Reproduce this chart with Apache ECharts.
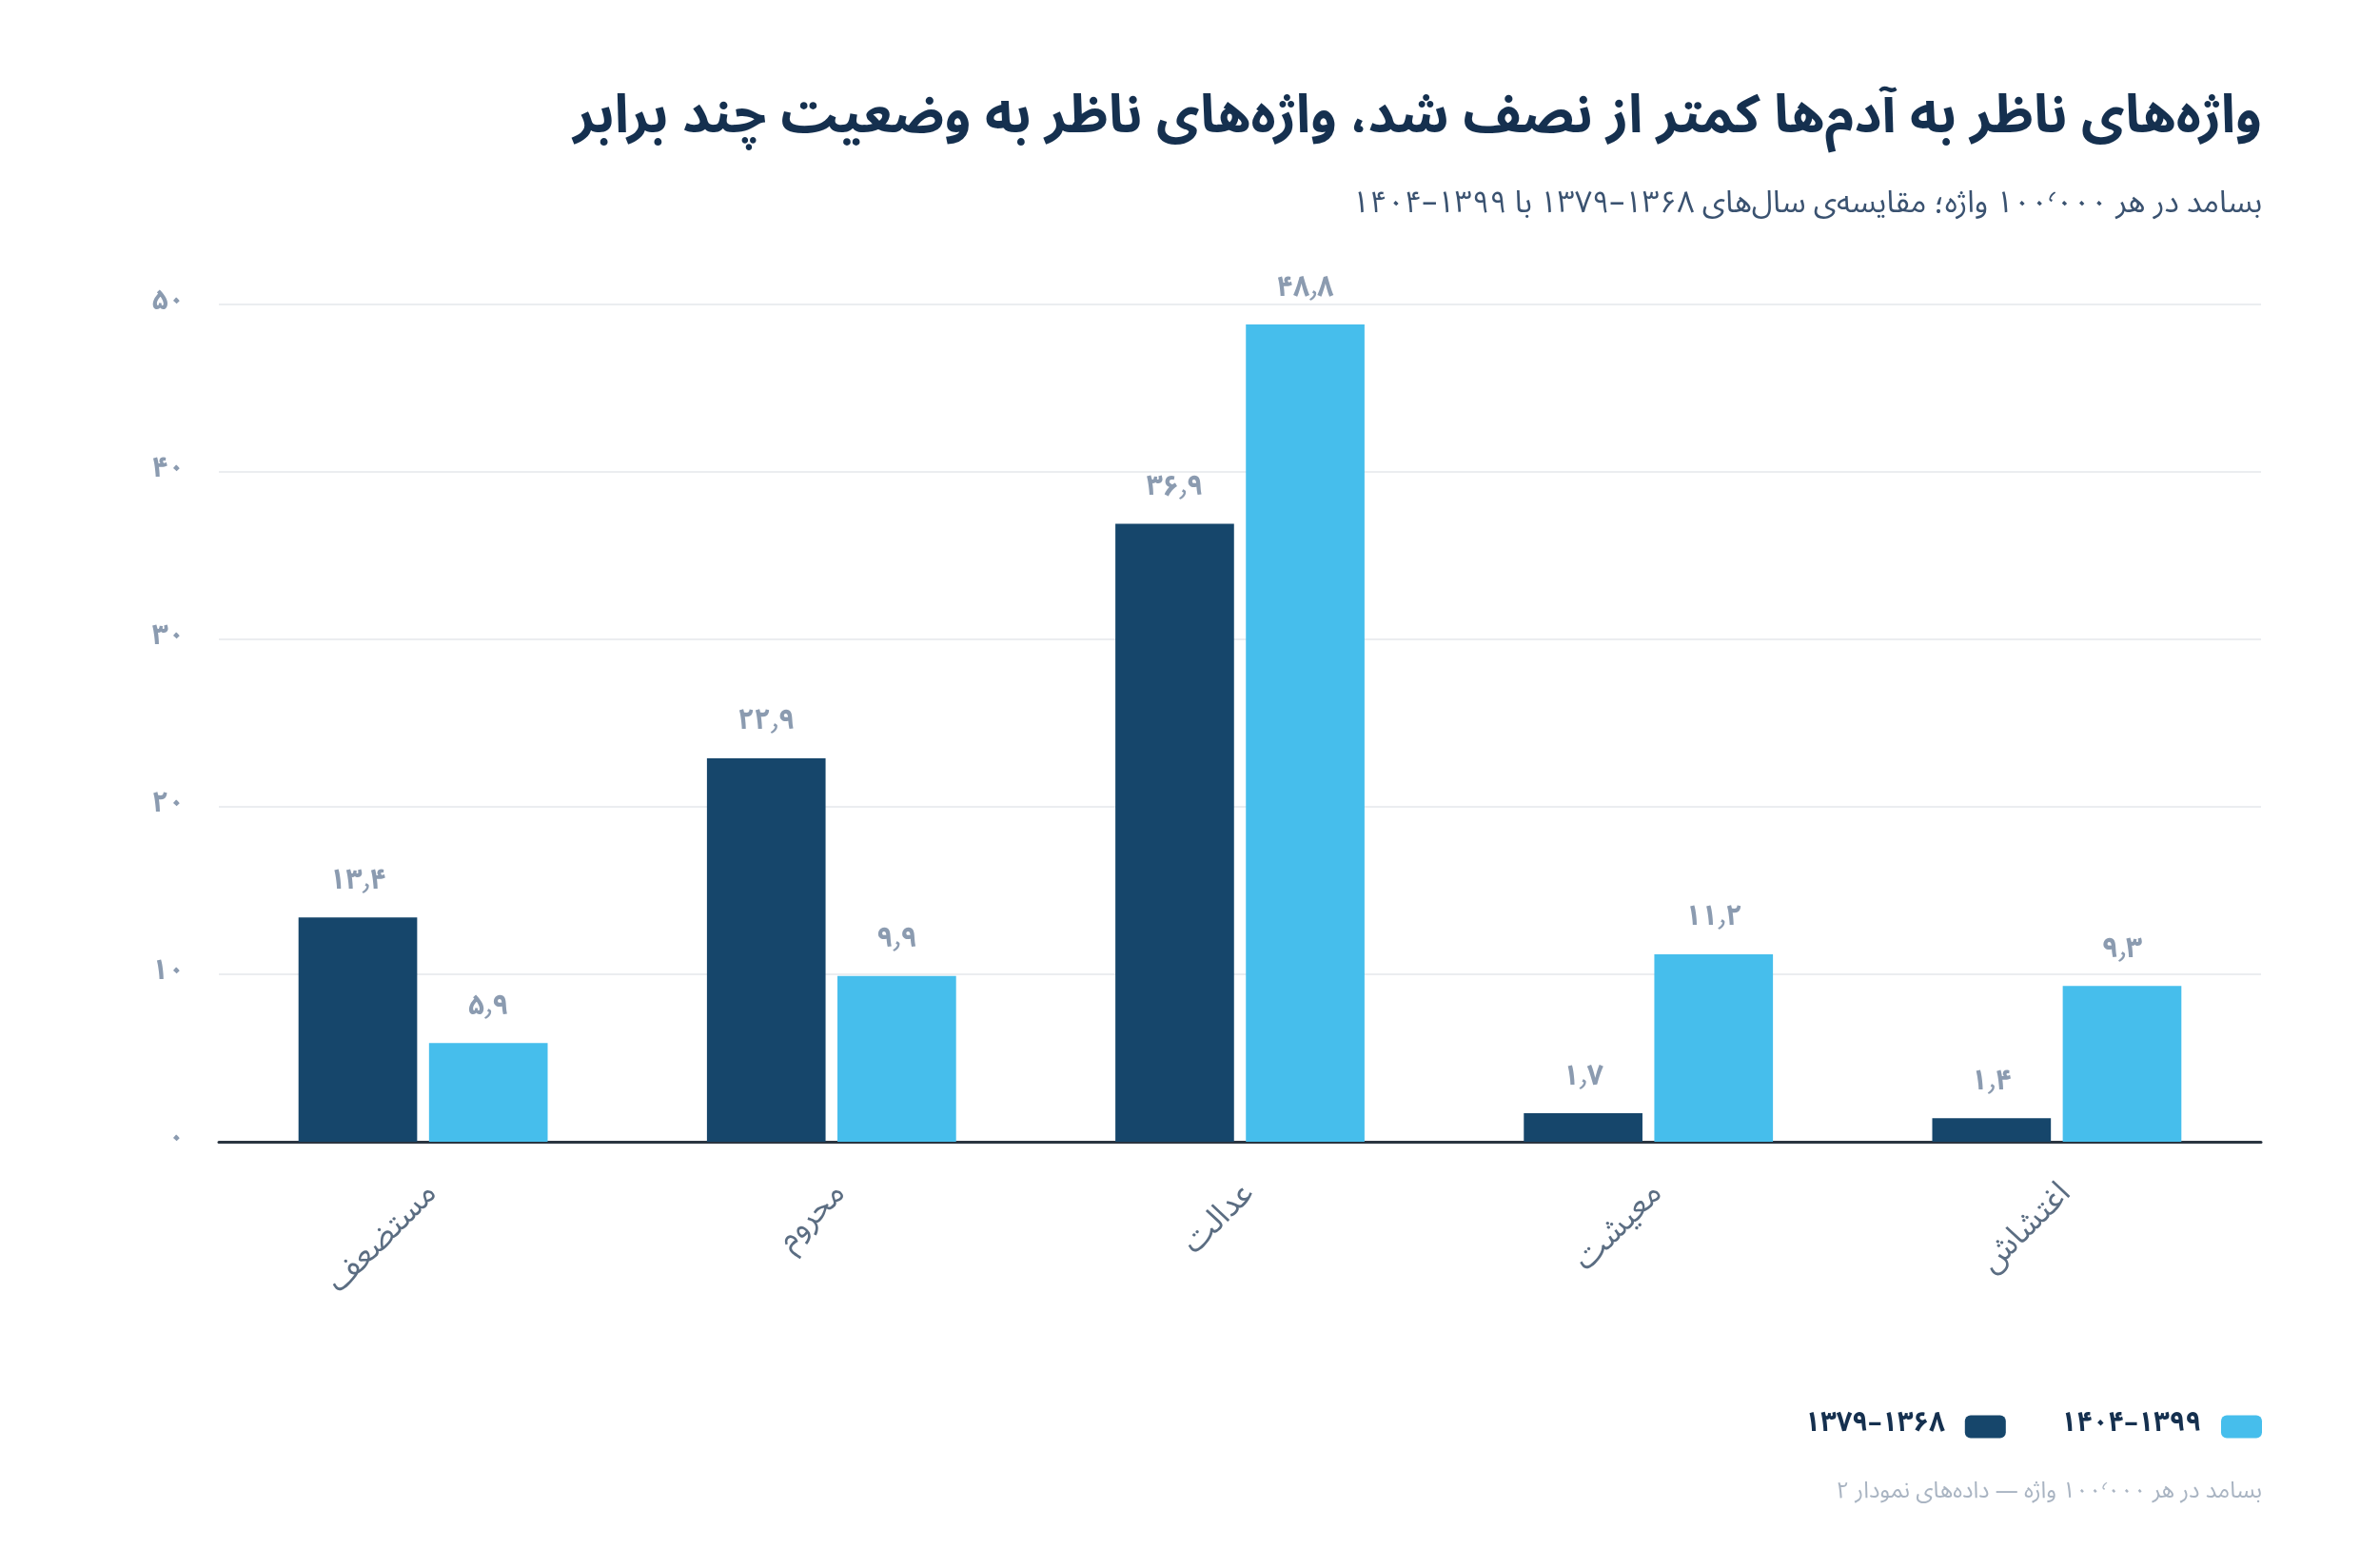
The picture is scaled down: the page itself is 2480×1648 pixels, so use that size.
<!DOCTYPE html>
<html lang="fa">
<head>
<meta charset="utf-8">
<script src="https://cdn.jsdelivr.net/npm/echarts@6/dist/echarts.min.js"></script>
<style>
  html, body { margin: 0; padding: 0; background: #fff; }
  #chart { width: 2480px; height: 1648px; }
</style>
</head>
<body>
<div id="chart" dir="rtl"></div>
<script>
// داده‌ها
const categories = ['مستضعف', 'محروم', 'عدالت', 'معیشت', 'اغتشاش']
const seriesNames = ['۱۳۶۸–۱۳۷۹', '۱۳۹۹–۱۴۰۴']
const valuesOld = [13.4, 22.9, 36.9, 1.7, 1.4]
const valuesNew = [5.9, 9.9, 48.8, 11.2, 9.3]
const yTicks = [0, 10, 20, 30, 40, 50]

const titleText = 'واژه‌های ناظر به آدم‌ها کمتر از نصف شد، واژه‌های ناظر به وضعیت چند برابر'
const subtitleText = 'بسامد در هر ۱۰۰٬۰۰۰ واژه؛ مقایسه‌ی سال‌های ۱۳۶۸–۱۳۷۹ با ۱۳۹۹–۱۴۰۴'
const footerText = 'بسامد در هر ۱۰۰٬۰۰۰ واژه — داده‌های نمودار ۲'

const FONT = "'Noto Sans Arabic', Vazirmatn, 'DejaVu Sans', sans-serif"

// رقم فارسی
function fa(n) {
  return String(n).replace(/\d/g, d => '۰۱۲۳۴۵۶۷۸۹'[d]).replace('.', '٫')
}

const labelStyle = {
  show: true,
  position: 'top',
  distance: 20,
  color: '#8b9bb0',
  fontSize: 30,
  fontWeight: 'bold',
  fontFamily: FONT,
  formatter: p => fa(p.value)
}

let myChart = echarts.init(document.getElementById('chart'))
myChart.setOption({
  backgroundColor: '#ffffff',
  textStyle: { fontFamily: FONT },
  title: [
    {
      text: titleText,
      right: 98, top: 98,
      textStyle: { fontSize: 56, fontWeight: 'bold', color: '#15304f', fontFamily: FONT }
    },
    {
      text: subtitleText,
      right: 98, top: 197,
      textStyle: { fontSize: 32, fontWeight: 'normal', color: '#3a5270', fontFamily: FONT }
    },
    {
      text: footerText,
      right: 98, top: 1553,
      textStyle: { fontSize: 24, fontWeight: 'normal', color: '#a9b4c2', fontFamily: FONT }
    }
  ],
  legend: {
    data: seriesNames,
    right: 98, top: 1480,
    align: 'right',
    icon: 'roundRect',
    itemWidth: 43, itemHeight: 24,
    itemGap: 58,
    textStyle: { fontSize: 29, fontWeight: 'bold', color: '#15304f', fontFamily: FONT, padding: [0, 16, 0, 0] }
  },
  grid: { left: 230, right: 104, top: 320, bottom: 448, containLabel: false },
  xAxis: {
    type: 'category',
    data: categories,
    axisLine: { lineStyle: { color: '#2b3541', width: 3 } },
    axisTick: { show: false },
    axisLabel: {
      rotate: 45,
      margin: 40,
      verticalAlign: 'top',
      fontSize: 34,
      color: '#5b6d82',
      fontFamily: FONT
    }
  },
  yAxis: {
    type: 'value',
    min: yTicks[0],
    max: yTicks[yTicks.length - 1],
    interval: 10,
    axisLine: { show: false },
    axisTick: { show: false },
    axisLabel: {
      margin: 36,
      fontSize: 30,
      fontWeight: 'bold',
      color: '#8b9bb0',
      fontFamily: FONT,
      formatter: v => fa(v)
    },
    splitLine: { lineStyle: { color: '#ebedf0', width: 2 } }
  },
  series: [
    {
      name: seriesNames[0],
      type: 'bar',
      data: valuesOld,
      barGap: '10%',
      barCategoryGap: '39%',
      itemStyle: { color: '#16466b' },
      label: labelStyle
    },
    {
      name: seriesNames[1],
      type: 'bar',
      data: valuesNew,
      itemStyle: { color: '#46beec' },
      label: labelStyle
    }
  ]
})
window.onresize = function() {
  myChart.resize()
}
</script>
</body>
</html>
